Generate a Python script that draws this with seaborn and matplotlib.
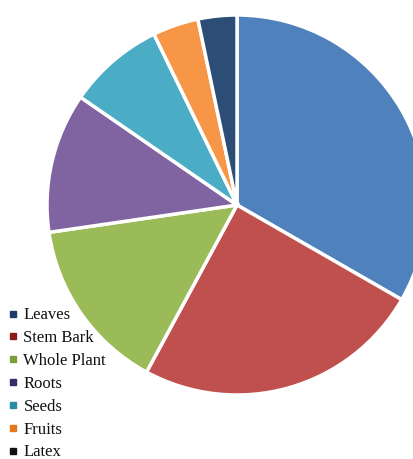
import matplotlib
matplotlib.use("Agg")
import matplotlib.pyplot as plt
import seaborn as sns
from matplotlib.lines import Line2D

sns.set_theme(style="white")
plt.rcParams['font.family'] = ['Liberation Serif', 'DejaVu Serif']

categories = ["Leaves", "Stem Bark", "Whole Plant", "Roots", "Seeds", "Fruits", "Latex"]
values = [33.3, 24.6, 14.8, 11.9, 8.2, 3.9, 3.3]
colors = ["#4F81BD", "#C0504D", "#9BBB59", "#8064A2", "#4BACC6", "#F79646", "#2C4D75"]
legend_colors = ["#1F3A6E", "#8B1A1A", "#77A03C", "#3B2A6A", "#2A8AA8", "#E4761E", "#111111"]

W, H = 414, 459
fig = plt.figure(figsize=(W / 100, H / 100), dpi=100)
cx, cy, r = 237, 205, 190
ax = fig.add_axes([(cx - r) / W, (H - cy - r) / H, 2 * r / W, 2 * r / H])
ax.pie(values, colors=colors, startangle=90, counterclock=False, radius=1,
       wedgeprops=dict(edgecolor="white", linewidth=2.5))
ax.set_xlim(-1, 1)
ax.set_ylim(-1, 1)
ax.set_aspect("auto")
ax.axis("off")

handles = [Line2D([0], [0], marker="s", linestyle="none", markersize=4,
                  markerfacecolor=c, markeredgecolor=c) for c in legend_colors]
fig.legend(handles, categories, loc="upper left", bbox_to_anchor=(6 / W, 1 - 304 / H),
           frameon=False, fontsize=12, handlelength=0.5, handletextpad=0.35,
           labelspacing=0.41, borderaxespad=0, borderpad=0.2, labelcolor="#111111")

fig.savefig("out.png", dpi=100)
